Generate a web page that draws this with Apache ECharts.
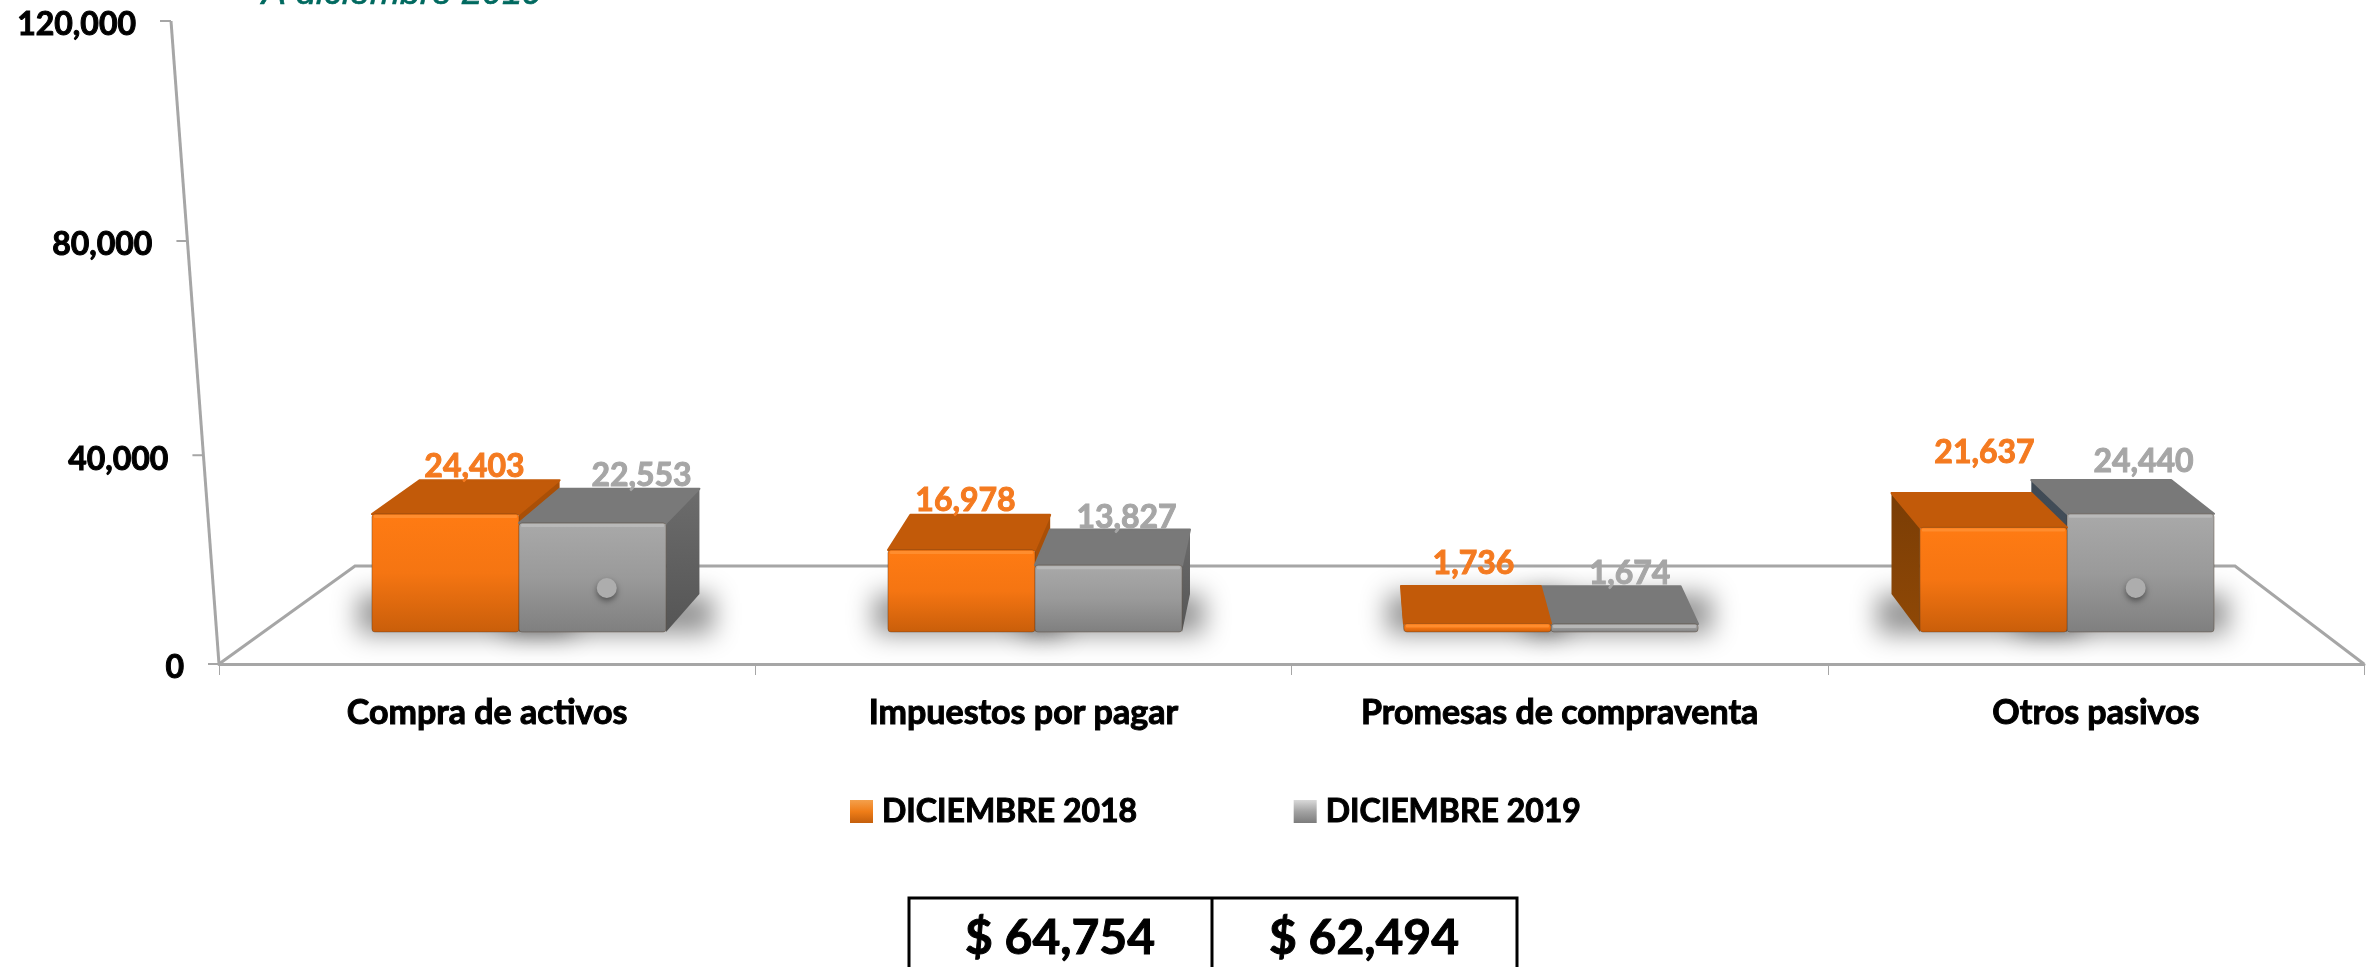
<!DOCTYPE html>
<html>
<head>
<meta charset="utf-8">
<title>Pasivos</title>
<style>
  html, body { margin: 0; padding: 0; background: #fff; }
  #main { width: 2371px; height: 967px; }
</style>
<script src="https://cdn.jsdelivr.net/npm/echarts@6/dist/echarts.min.js"></script>
</head>
<body>
<div id="main"></div>
<script>
const categories = ['Compra de activos', 'Impuestos por pagar', 'Promesas de compraventa', 'Otros pasivos']
const seriesNames = ['DICIEMBRE 2018', 'DICIEMBRE 2019']
const values2018 = [24403, 16978, 1736, 21637]
const values2019 = [22553, 13827, 1674, 24440]
// stray round markers that sit on the grey bars
const markerValues = [9100, null, null, 9100]
const yTicks = [0, 40000, 80000, 120000]
const totals = ['$ 64,754', '$ 62,494']
const subtitle = 'A diciembre 2019'

const FONT = 'Lato, "Noto Sans", sans-serif'
const AXIS_GREY = '#a6a6a6'
const ORANGE_TEXT = '#f47a20'
const GREY_TEXT = '#a6a6a6'
const VANISH_X = 1343 // x the bar depth converges to
const OFFSCREEN = 4000 // the shadow caster is drawn off the canvas, only its blur lands on the floor

const grad = (stops) => new echarts.graphic.LinearGradient(0, 0, 0, 1,
  stops.map((c, i) => ({ offset: i / (stops.length - 1), color: c })))

const skins = [
  {
    front: ['#ff7b13', '#f57512', '#c95e0a'], top: '#c25a09', bevel: '#ff9236',
    right: '#a94f07', left: ['#7a3d05', '#8f4806'], text: ORANGE_TEXT
  },
  {
    front: ['#a9a9a9', '#9a9a9a', '#7f7f7f'], top: '#797979', bevel: '#bdbdbd',
    right: ['#6c6c6c', '#555555'], left: ['#3f4a55', '#4a5560'], text: GREY_TEXT
  }
]

// label placement: shift from the middle of the bar front, gap above the back edge of the top
const labelPlace = [
  { dx: [29, 4, -4, -9], dy: [13, 14, 22, 40] },
  { dx: [49, 18, 5, 3], dy: [13, 12, 13, 18] }
]

// the value axis is slightly foreshortened towards the top
function foreshorten (v) {
  const t = v / 120000
  return 120000 * t / (t + (1 - t) * 1.04)
}

function depthX (x) { return (VANISH_X - x) * 0.0493 }
function depthY (y, base) { return 38 - (base - y) * 0.035 }

function poly (points, fill, z2, extra) {
  return Object.assign({
    type: 'polygon',
    z2: z2,
    shape: { points: points },
    style: { fill: fill }
  }, extra || {})
}

function renderBar (seriesIdx) {
  return function (params, api) {
    const cat = api.value(0)
    const val = api.value(1)
    const top = api.coord([cat, val])
    const base = api.coord([cat, 0])[1]
    const cx = top[0]
    const w = api.size([1, 0])[0] * 0.285
    const xl = seriesIdx === 0 ? cx - w : cx
    const xr = xl + w
    const yt = top[1]
    const skin = skins[seriesIdx]
    const leftOfVanish = cx < VANISH_X
    // far bar of the pair is painted first
    const z = (seriesIdx === 0) === leftOfVanish ? 10 : 20

    const dyT = depthY(yt, base)
    const dyB = depthY(base, base)
    const backL = xl + depthX(xl)
    const backR = xr + depthX(xr)
    const children = []

    // floor shadow
    const sl = Math.min(xl, backL) - 14 - OFFSCREEN
    const sr = Math.max(xr, backR) + 14 - OFFSCREEN
    children.push(poly(
      [[sl, base + 2], [sr, base + 2], [sr, base - dyB], [sl, base - dyB]],
      '#000', 1,
      { style: { fill: '#000', shadowBlur: 26, shadowColor: 'rgba(0,0,0,0.42)', shadowOffsetX: OFFSCREEN } }
    ))
    // sides
    if (depthX(xr) > 0) {
      children.push(poly(
        [[xr, yt], [backR, yt - dyT], [backR, base - dyB], [xr, base]],
        Array.isArray(skin.right) ? grad(skin.right) : skin.right, z
      ))
    }
    if (depthX(xl) < 0) {
      children.push(poly(
        [[xl, yt], [backL, yt - dyT], [backL, base - dyB], [xl, base]],
        grad(skin.left), z
      ))
    }
    // top face
    children.push(poly(
      [[xl, yt], [xr, yt], [backR, yt - dyT], [backL, yt - dyT]],
      skin.top, z,
      { style: { fill: skin.top, stroke: skin.top, lineWidth: 2, lineJoin: 'round' } }
    ))
    // front face
    children.push({
      type: 'rect',
      z2: z,
      shape: { x: xl, y: yt, width: w, height: base - yt, r: 3 },
      style: { fill: grad(skin.front), stroke: 'rgba(70,50,30,0.35)', lineWidth: 1 }
    })
    children.push({
      type: 'rect',
      z2: z,
      shape: { x: xl + 2, y: yt + 1, width: w - 4, height: 3, r: 1 },
      style: { fill: skin.bevel, opacity: 0.8 }
    })
    // stray marker
    if (seriesIdx === 1 && markerValues[cat] != null) {
      const my = api.coord([cat, markerValues[cat]])[1]
      children.push({
        type: 'circle',
        z2: z,
        shape: { cx: (xl + xr) / 2 + depthX((xl + xr) / 2) * 0.25 + 5, cy: my, r: 10 },
        style: { fill: '#adadad', shadowBlur: 6, shadowColor: 'rgba(0,0,0,0.45)', shadowOffsetY: 3 }
      })
    }
    // value label
    const place = labelPlace[seriesIdx]
    children.push({
      type: 'text',
      z2: 100,
      style: {
        text: val.toLocaleString('en-US'),
        x: (xl + xr) / 2 + place.dx[cat],
        y: yt - dyT - place.dy[cat],
        align: 'center',
        verticalAlign: 'middle',
        font: 'bold 32px ' + FONT,
        fill: skin.text,
        stroke: skin.text,
        lineWidth: 1
      }
    })
    return { type: 'group', children: children }
  }
}

// slanted value axis: the y comes from the axis scale, the x follows the skew of the wall
function renderValueAxis (params, api) {
  const y0 = api.coord([0, 0])[1]
  const yMax = api.coord([0, foreshorten(120000)])[1]
  const xAt = (y) => 219 - (y0 - y) * 48 / (y0 - yMax)
  const v = api.value(1)
  const y = api.coord([0, foreshorten(v)])[1]
  const x = xAt(y)
  const children = [
    {
      type: 'line',
      shape: { x1: x - 11, y1: y, x2: x, y2: y },
      style: { stroke: AXIS_GREY, lineWidth: 2 }
    },
    {
      type: 'text',
      style: {
        text: v.toLocaleString('en-US'),
        x: x - 35,
        y: y + 4,
        align: 'right',
        verticalAlign: 'middle',
        font: 'bold 32px ' + FONT,
        fill: '#000',
        stroke: '#000',
        lineWidth: 1
      }
    }
  ]
  if (params.dataIndex === 0) {
    children.push({
      type: 'line',
      shape: { x1: xAt(y0), y1: y0, x2: xAt(yMax), y2: yMax },
      style: { stroke: AXIS_GREY, lineWidth: 3 }
    })
  }
  return { type: 'group', children: children }
}

const chart = echarts.init(document.getElementById('main'))

const option = {
  animation: false,
  backgroundColor: '#fff',
  textStyle: { fontFamily: FONT },
  legend: {
    left: 845,
    top: 790,
    icon: 'rect',
    itemWidth: 23,
    itemHeight: 23,
    itemGap: 156,
    data: [
      { name: seriesNames[0], itemStyle: { color: grad(['#f4a04c', '#ef7d18', '#c45f0c']) } },
      { name: seriesNames[1], itemStyle: { color: grad(['#d9d9d9', '#a3a3a3', '#7c7c7c']) } }
    ],
    textStyle: {
      color: '#000', fontWeight: 'bold', fontSize: 32, fontFamily: FONT,
      textBorderColor: '#000', textBorderWidth: 1, padding: [0, 0, 0, 4]
    }
  },
  grid: [
    // the wall and floor axes
    { left: 219, right: 7, top: 21, bottom: 303 },
    // front plane of the bars, with its own baseline
    { left: 261, right: 46, top: 52, bottom: 335 }
  ],
  xAxis: [
    {
      type: 'category',
      gridIndex: 0,
      data: categories,
      axisLine: { lineStyle: { color: AXIS_GREY, width: 3 } },
      axisTick: { show: true, length: 11, lineStyle: { color: AXIS_GREY, width: 1 } },
      axisLabel: {
        color: '#000', fontWeight: 'bold', fontSize: 34, fontFamily: FONT, margin: 32,
        textBorderColor: '#000', textBorderWidth: 1
      }
    },
    { type: 'category', gridIndex: 1, data: categories, show: false }
  ],
  yAxis: [
    {
      type: 'value',
      gridIndex: 0,
      min: 0,
      max: 120000,
      interval: 40000,
      axisLine: { show: false },
      axisTick: { show: false },
      axisLabel: { show: false },
      splitLine: { show: false }
    },
    { type: 'value', gridIndex: 1, min: 0, max: 120000, show: false, splitLine: { show: false } }
  ],
  graphic: [
    {
      type: 'polyline',
      silent: true,
      z: 0,
      shape: { points: [[219, 664], [355, 566], [2235, 566], [2364, 664]] },
      style: { stroke: AXIS_GREY, lineWidth: 3, fill: null }
    },
    {
      type: 'text',
      z: 5,
      style: {
        text: subtitle,
        x: 262,
        y: 12,
        verticalAlign: 'bottom',
        font: 'italic 36px "Liberation Sans", sans-serif',
        fill: '#00695f',
        stroke: '#00695f',
        lineWidth: 0.7
      }
    },
    // totals box, runs off the bottom of the page
    {
      type: 'polyline',
      z: 5,
      shape: { points: [[909, 970], [909, 898], [1517, 898], [1517, 970]] },
      style: { stroke: '#000', lineWidth: 3, fill: null }
    },
    {
      type: 'line',
      z: 5,
      shape: { x1: 1212, y1: 898, x2: 1212, y2: 970 },
      style: { stroke: '#000', lineWidth: 3 }
    },
    {
      type: 'text',
      z: 5,
      style: { text: totals[0], x: 1060, y: 939, align: 'center', verticalAlign: 'middle', font: 'bold 48px ' + FONT, fill: '#000', stroke: '#000', lineWidth: 1 }
    },
    {
      type: 'text',
      z: 5,
      style: { text: totals[1], x: 1364, y: 939, align: 'center', verticalAlign: 'middle', font: 'bold 48px ' + FONT, fill: '#000', stroke: '#000', lineWidth: 1 }
    }
  ],
  series: [
    {
      name: 'eje',
      type: 'custom',
      xAxisIndex: 0,
      yAxisIndex: 0,
      silent: true,
      renderItem: renderValueAxis,
      data: yTicks.map(v => [0, v])
    },
    {
      name: seriesNames[0],
      type: 'custom',
      xAxisIndex: 1,
      yAxisIndex: 1,
      renderItem: renderBar(0),
      data: values2018.map((v, i) => [i, v])
    },
    {
      name: seriesNames[1],
      type: 'custom',
      xAxisIndex: 1,
      yAxisIndex: 1,
      renderItem: renderBar(1),
      data: values2019.map((v, i) => [i, v])
    }
  ]
}

chart.setOption(option)
</script>
</body>
</html>
